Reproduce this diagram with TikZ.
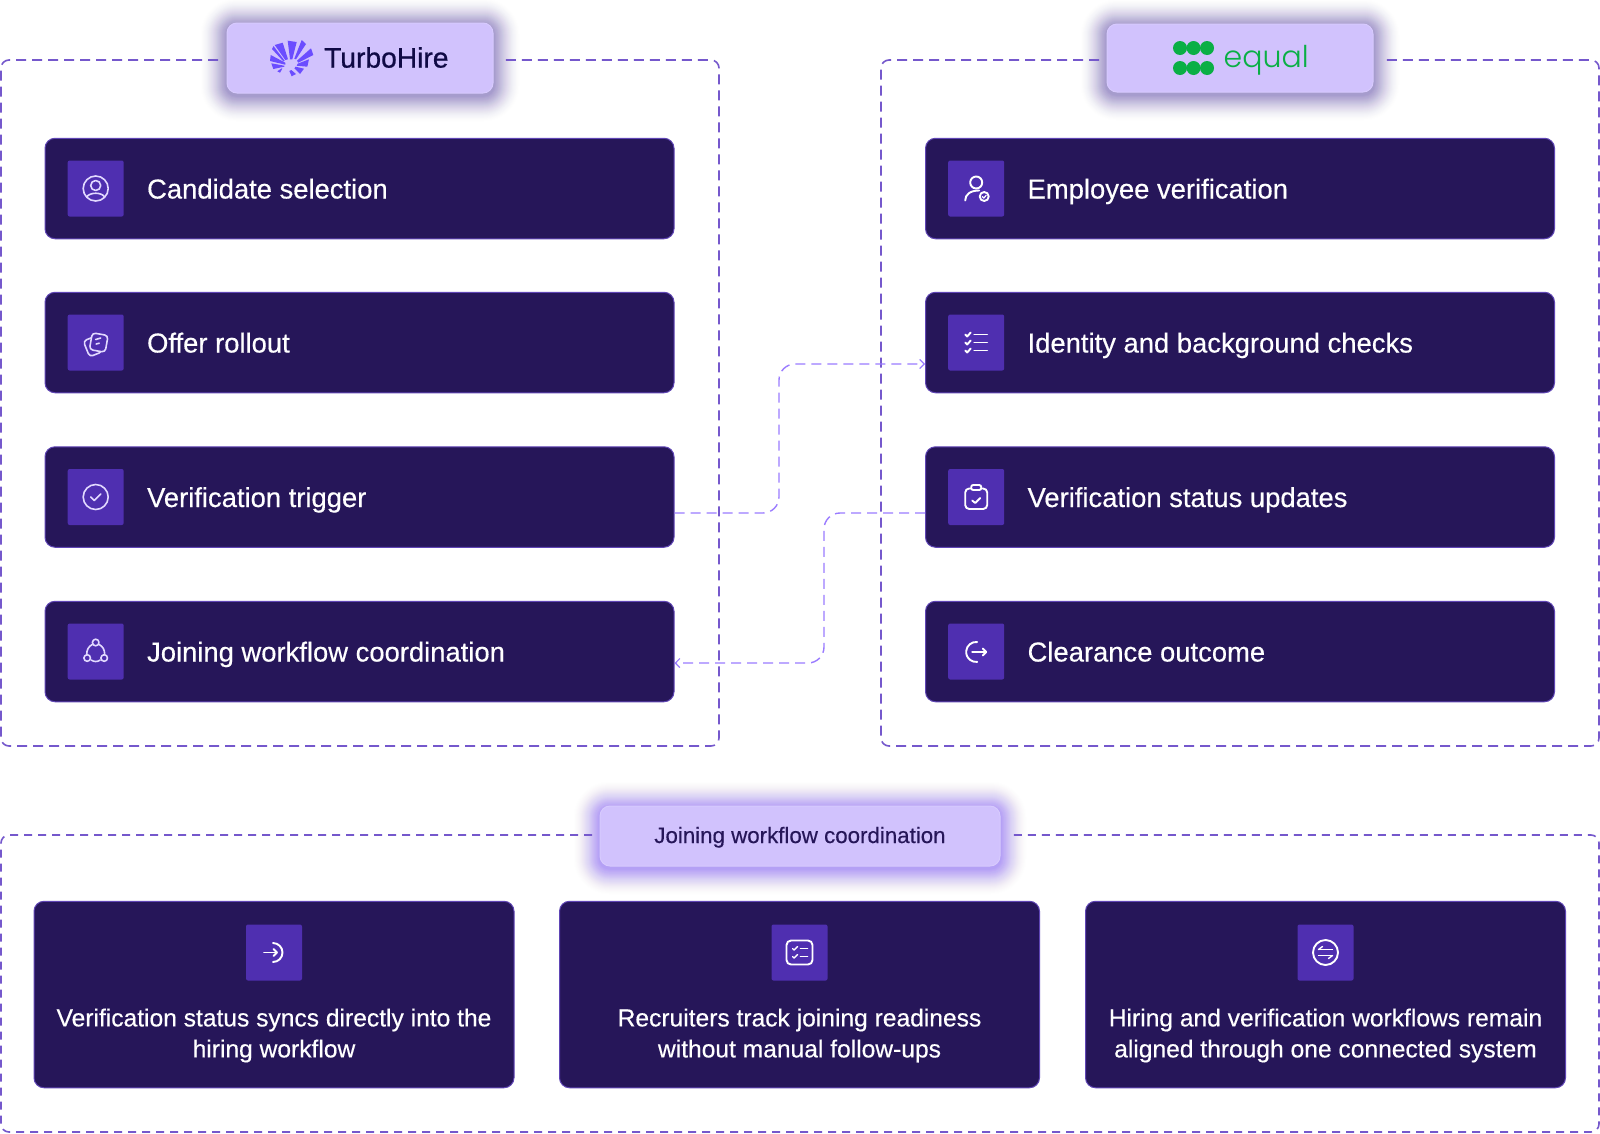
\documentclass[tikz,border=0pt]{standalone}
\usepackage{fontspec}
\setmainfont[RawFeature={embolden=0.4}]{Liberation Sans}
\newfontfamily\logofont[RawFeature={embolden=0.8}]{Liberation Sans}
\newfontfamily\equalfont[UprightFont={* Light}]{Poppins}
\usetikzlibrary{positioning,arrows.meta,backgrounds}

\definecolor{cardfill}{HTML}{261659}
\definecolor{cardedge}{HTML}{5F45B5}
\definecolor{iconfill}{HTML}{4F2FB0}
\definecolor{iconsoft}{HTML}{E2D9FF}
\definecolor{panelline}{HTML}{7558CC}
\definecolor{linkline}{HTML}{9A7BFF}
\definecolor{pillfill}{HTML}{D1C2FD}
\definecolor{pilledge}{HTML}{D7CAFD}
\definecolor{glowdull}{HTML}{6F5BB8}
\definecolor{glowbright}{HTML}{8A63F5}
\definecolor{turboburst}{HTML}{6B4DFF}
\definecolor{turboink}{HTML}{100A45}
\definecolor{equalgreen}{HTML}{0AAF45}

\tikzset{
  rowcard/.style={rectangle,rounded corners=10,fill=cardfill,draw=cardedge,line width=1,
    minimum width=629,minimum height=100.5,inner sep=0},
  widecard/.style={rectangle,rounded corners=10,fill=cardfill,draw=cardedge,line width=1,
    minimum width=480,minimum height=186.5,inner sep=0},
  iconbox/.style={rectangle,rounded corners=2,fill=iconfill,minimum size=56,inner sep=0},
  rowtext/.style={text=white,inner sep=0,text height=26,text depth=6,
    font=\fontsize{27.4}{31}\selectfont},
  widetext/.style={text=white,inner sep=0,align=center,
    font=\fontsize{24.6}{31}\selectfont},
  pill/.style={rectangle,rounded corners=10,fill=pillfill,draw=pilledge,line width=1,inner sep=0},
  panel/.style={draw=panelline,line width=1.6,dash pattern=on 10 off 6,rounded corners=8},
  lowpanel/.style={draw=panelline,line width=1.6,dash pattern=on 8 off 6,rounded corners=8},
  link/.style={draw=linkline,line width=1.4,dash pattern=on 10 off 6,rounded corners=16,
    -{Straight Barb[length=4.5,width=9,line width=1.2]}},
  softline/.style={draw=iconsoft,line width=1.6,line cap=round,line join=round},
  iconline/.style={draw=white,line width=1.9,line cap=round,line join=round},
}

\begin{document}
\begin{tikzpicture}[x=1pt,y=-1pt]
    \useasboundingbox (0,0) rectangle (1600,1133);

    % Panels, open where the pills sit
    \draw[panel] (218,60) -- (1,60) -- (1,746) -- (719,746) -- (719,60) -- (505,60);
    \draw[panel] (1099,60) -- (881,60) -- (881,746) -- (1599,746) -- (1599,60) -- (1386,60);
    \draw[lowpanel] (592,835) -- (1,835) -- (1,1132) -- (1599,1132) -- (1599,835) -- (1008,835);

    % Pills
    \node[pill,minimum width=266,minimum height=70] (pillturbo) at (360,58) {};
    \node[pill,minimum width=266,minimum height=68] (pillequal) at (1240,58) {};
    \node[pill,minimum width=400,minimum height=60,text=cardfill,text height=20,text depth=6,
      font=\fontsize{22.3}{26}\selectfont] (pilljoin) at (800,836) {Joining workflow coordination};

    % Glow behind the pills
    \begin{scope}[on background layer]
      \fill[white] (0,0) rectangle (1600,1133);
      \foreach \name/\tone in {pillturbo/glowdull,pillequal/glowdull,pilljoin/glowbright}
        \foreach \g in {1,...,26} {
          \pgfmathsetmacro\veil{0.0022*(27-\g)}
          \fill[\tone,opacity=\veil,rounded corners=10+\g]
            ([shift={(-\g,-\g+2)}]\name.north west) rectangle ([shift={(\g,\g+2)}]\name.south east);
        }
    \end{scope}

    % Pill logos
    \foreach \p/\q/\r/\s in {
        {-15.3,-20}/{-7.3,-22.3}/{-2,-5.7}/{-4.7,-5},
        {-2.3,-24.3}/{6.7,-23}/{2.3,-5.7}/{0,-5.7},
        {11.7,-25}/{16,-21}/{6,-5.7}/{4.3,-6.3},
        {21,-16.7}/{23.3,-10}/{8.3,-2.3}/{7,-4.3},
        {19,-5.7}/{17.3,1.7}/{6.7,.7}/{7.7,-1.3},
        {14,3.7}/{10,9}/{4.3,3.3}/{5.7,1.7},
        {6,9}/{1.7,11.3}/{-.7,6}/{1.3,5},
        {-7.7,3.7}/{-10,7.7}/{-12.7,6.3}/{-8.3,3.3},
        {-19.3,-10}/{-20,-4}/{-4.7,-.3}/{-4.7,-2.3},
        {-18.7,-1.7}/{-16.7,4}/{-5.7,1.7}/{-5.7,.7},
        {-18,-16}/{-16.5,-19}/{-5.5,-4.5}/{-6.5,-3.5}}
      \fill[turboburst,shift={(290,65)}] (\p) -- (\q) -- (\r) -- (\s) -- cycle;
    \node[text=turboink,inner sep=0,anchor=west,font=\logofont\fontsize{28.2}{30}\selectfont]
      (turboname) at (324,57.5) {TurboHire};
    \foreach \x in {1180,1193.5,1207}
      \foreach \y in {48,68}
        \fill[equalgreen] (\x,\y) circle (7);
    \node[text=equalgreen,inner sep=0,anchor=west,font=\equalfont\fontsize{30}{33}\selectfont]
      (equalname) at (1223.5,60) {equal};

    % Left column
    \foreach \name/\ypos/\words in {selection/188.5/Candidate selection,offer/342.5/Offer rollout,
        trigger/497/Verification trigger,joining/651.5/Joining workflow coordination} {
      \node[rowcard] (\name) at (359.5,\ypos) {};
      \node[iconbox,right=23pt of \name.west] (icon\name) {};
      \node[rowtext,right=23pt of icon\name] (text\name) {\words};
    }

    % Right column
    \foreach \name/\ypos/\words in {employee/188.5/Employee verification,
        checks/342.5/Identity and background checks,status/497/Verification status updates,
        clearance/651.5/Clearance outcome} {
      \node[rowcard] (\name) at (1240,\ypos) {};
      \node[iconbox,right=23pt of \name.west] (icon\name) {};
      \node[rowtext,right=23pt of icon\name] (text\name) {\words};
    }

    % Bottom row
    \foreach \name/\xpos/\words in {syncs/274/{Verification status syncs directly into the\\hiring workflow},
        track/799.5/{Recruiters track joining readiness\\without manual follow-ups},
        aligned/1325.5/{Hiring and verification workflows remain\\aligned through one connected system}} {
      \node[widecard] (\name) at (\xpos,994.5) {};
      \node[iconbox] (icon\name) at (\xpos,952.5) {};
      \node[widetext] (text\name) at (\xpos,1035.5) {\words};
    }

    % Connectors
    \coordinate (bendout) at (779,430);
    \coordinate (bendback) at (824,590);
    \draw[link] ([yshift=-16]trigger.east) -| (bendout) |- ([yshift=-21.5]checks.west);
    \draw[link] ([yshift=-16]status.west) -| (bendback) |- ([yshift=-11.5]joining.east);

    % Icons, left column
    \begin{scope}[shift={(iconselection.center)}]
      \draw[softline] (0,0) circle (12.5);
      \draw[softline] (0,-3) circle (5);
      \draw[softline] (-9,8.5) .. controls (-6,3.5) and (6,3.5) .. (9,8.5);
    \end{scope}
    \begin{scope}[shift={(iconoffer.center)}]
      \draw[softline,rotate=22,rounded corners=3.5] (-11,-6) rectangle (3,11);
      \draw[softline,fill=iconfill,rotate=-10,rounded corners=3.5] (-5,-9) rectangle (11,8);
      \draw[softline] (0,-3) -- (5,-4.5);
      \draw[softline] (0.5,1.5) -- (3.5,0.7);
    \end{scope}
    \begin{scope}[shift={(icontrigger.center)}]
      \draw[softline] (0,0) circle (12.5);
      \draw[softline] (-5,0) -- (-1.5,3.5) -- (5,-3);
    \end{scope}
    \begin{scope}[shift={(iconjoining.center)}]
      \draw[softline] (0,-9) circle (3.3);
      \draw[softline] (-8.5,6.5) circle (3.3);
      \draw[softline] (8.5,6.5) circle (3.3);
      \draw[softline] (-3.5,-7) .. controls (-7,-5) and (-9,-2) .. (-9,3);
      \draw[softline] (3.5,-7) .. controls (7,-5) and (9,-2) .. (9,3);
      \draw[softline] (-4.5,8.5) .. controls (-2,10.5) and (2,10.5) .. (4.5,8.5);
    \end{scope}

    % Icons, right column
    \begin{scope}[shift={(iconemployee.center)}]
      \draw[iconline] (0,-6) circle (6);
      \draw[iconline] (-11,12) .. controls (-11,6) and (-6,2) .. (3,2);
      \draw[iconline] (8,8) circle (4.5);
      \draw[iconline,line width=1.2] (6,8) -- (7.6,9.6) -- (10,6.8);
    \end{scope}
    \begin{scope}[shift={(iconchecks.center)}]
      \foreach \y in {-8,0,8} {
        \draw[iconline] (-11,\y) -- (-9,\y+2) -- (-5.5,\y-2);
        \draw[iconline] (-2,\y) -- (11,\y);
      }
    \end{scope}
    \begin{scope}[shift={(iconstatus.center)}]
      \draw[iconline,rounded corners=4] (-11,-8.5) rectangle (11,12);
      \draw[iconline,fill=iconfill,rounded corners=2] (-5,-12) rectangle (5,-7);
      \draw[iconline] (-4,3.5) -- (-1,6) -- (4,1);
    \end{scope}
    \begin{scope}[shift={(iconclearance.center)}]
      \draw[iconline] (1,-9.5) arc[start angle=-84,end angle=-276,radius=10];
      \draw[iconline] (-4,0.5) -- (10,0.5);
      \draw[iconline] (6.5,-3) -- (10,0.5) -- (6.5,4);
    \end{scope}

    % Icons, bottom row
    \begin{scope}[shift={(iconsyncs.center)}]
      \draw[iconline] (-1,-9.5) arc[start angle=-90,end angle=90,radius=9.5];
      \draw[iconline] (-10,0) -- (3,0);
      \draw[iconline] (-0.5,-3.5) -- (3,0) -- (-0.5,3.5);
    \end{scope}
    \begin{scope}[shift={(icontrack.center)}]
      \draw[iconline,rounded corners=4.5] (-13,-12) rectangle (13,12);
      \foreach \y in {-4,4} {
        \draw[iconline,line width=1.4] (-7,\y) -- (-5.5,\y+1.5) -- (-2,\y-2);
        \draw[iconline] (1,\y) -- (8,\y);
      }
    \end{scope}
    \begin{scope}[shift={(iconaligned.center)}]
      \draw[iconline] (0,0) circle (12.5);
      \draw[iconline,line width=1.4] (-7,-3) -- (7,-3);
      \draw[iconline,line width=1.4] (-7,-3) -- (-3,-6);
      \draw[iconline,line width=1.4] (-7,3) -- (7,3);
      \draw[iconline,line width=1.4] (7,3) -- (3,6);
    \end{scope}
\end{tikzpicture}
\end{document}
